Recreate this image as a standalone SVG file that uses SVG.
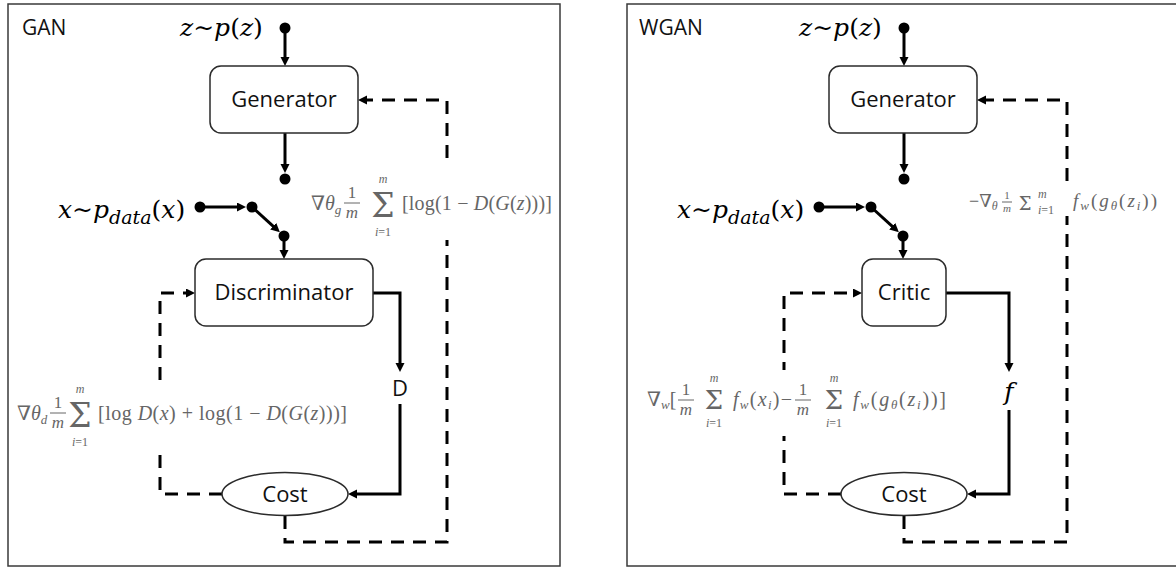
<svg xmlns="http://www.w3.org/2000/svg" width="1176" height="567" viewBox="0 0 1176 567">
  <style>
    .frame { fill: none; stroke: #3a3a3a; stroke-width: 1.5; }
    .box { fill: #fff; stroke: #2b2b2b; stroke-width: 1.5; }
    .lbl { font-family: "Open Sans", "Liberation Sans", sans-serif; font-size: 22px; fill: #111; text-anchor: middle; }
    .title { font-family: "Open Sans", "Liberation Sans", sans-serif; font-size: 21px; fill: #111; }
    .wire { fill: none; stroke: #000; stroke-width: 3; }
    .dash { fill: none; stroke: #000; stroke-width: 3; stroke-dasharray: 13 9; }
    .dot { fill: #000; }
    .var { font-family: "DejaVu Serif", "Liberation Serif", serif; font-style: italic; font-size: 25px; fill: #000; }
    .up { font-style: normal; }
    .m { font-family: "Liberation Serif", "DejaVu Serif", serif; fill: #666; }
    .sg { font-family: "DejaVu Serif", "Liberation Serif", serif; }
    .it { font-style: italic; }
    .c { text-anchor: middle; }
    .l { text-anchor: start; }
    .bar { stroke: #666; stroke-width: 1; }
    .pad { fill: #fff; }
  </style>
  <defs>
    <marker id="tip" markerUnits="userSpaceOnUse" markerWidth="10" markerHeight="10" refX="2" refY="4.5" orient="auto">
      <path d="M0,0 L9,4.5 L0,9 z" fill="#000"/>
    </marker>
  </defs>

  <!-- panel frames -->
  <rect class="frame" x="8" y="4" width="552" height="562"/>
  <rect class="frame" x="627" y="4" width="560" height="562"/>
  <text class="title" x="22" y="35">GAN</text>
  <text class="title" x="639" y="35">WGAN</text>

  <!-- ===== GAN panel ===== -->
  <g id="connectors-gan">
    <path class="wire" d="M285,28 V59" marker-end="url(#tip)"/>
    <path class="wire" d="M285,133 V166" marker-end="url(#tip)"/>
    <path class="wire" d="M200,207 H239" marker-end="url(#tip)"/>
    <path class="wire" d="M252,207 L274.7,227.6" marker-end="url(#tip)"/>
    <path class="wire" d="M284,236 V252" marker-end="url(#tip)"/>
    <path class="wire" d="M373,293 H400 V365" marker-end="url(#tip)"/>
    <path class="wire" d="M400,404 V494 H355" marker-end="url(#tip)"/>
    <path class="dash" d="M222,494 H160 V293 H188" marker-end="url(#tip)"/>
    <path class="dash" d="M285,516 V542 H447 V100 H365" marker-end="url(#tip)"/>
  </g>

  <g id="gan-z">
    <text class="var" x="180" y="36">z∼p<tspan class="up">(</tspan>z<tspan class="up">)</tspan></text>
    <circle class="dot" cx="285" cy="28" r="5.5"/>
  </g>
  <g id="gan-generator">
    <rect class="box" x="210" y="66" width="148" height="67" rx="11"/>
    <text class="lbl" x="284" y="107">Generator</text>
  </g>
  <g id="gan-gz">
    <circle class="dot" cx="285" cy="179" r="5.5"/>
  </g>
  <g id="gan-x">
    <text class="var" x="58" y="218" font-size="26">x∼p<tspan font-size="19" dy="6">data</tspan><tspan class="up" dy="-6">(</tspan>x<tspan class="up">)</tspan></text>
    <circle class="dot" cx="200" cy="207" r="5.5"/>
  </g>
  <g id="gan-switch">
    <circle class="dot" cx="252" cy="207" r="5.5"/>
    <circle class="dot" cx="284" cy="236" r="5.5"/>
  </g>
  <g id="gan-discriminator">
    <rect class="box" x="195" y="259" width="178" height="67" rx="11"/>
    <text class="lbl" x="284" y="300">Discriminator</text>
  </g>
  <g id="gan-d">
    <text class="lbl" x="400" y="396" font-size="23">D</text>
  </g>
  <g id="gan-cost">
    <ellipse class="box" cx="285" cy="494" rx="63" ry="21.5"/>
    <text class="lbl" x="285" y="502">Cost</text>
  </g>

  <!-- generator gradient: fraction and summation limits as chunks of one text -->
  <g id="gan-grad-g">
    <rect class="pad" x="308" y="166" width="248" height="74"/>
    <line class="bar" x1="344" y1="203" x2="360" y2="203"/>
    <text class="m" font-size="20"><tspan x="311" y="210">∇<tspan class="it">θ</tspan><tspan class="it" font-size="13" dy="4">g</tspan></tspan><tspan class="c" x="352" y="198" font-size="17">1</tspan><tspan class="c it" x="352" y="218" font-size="17">m</tspan><tspan class="c it" x="383" y="183" font-size="12">m</tspan><tspan class="c sg" x="383" y="217" font-size="33">Σ</tspan><tspan class="c" x="383" y="236" font-size="12"><tspan class="it">i</tspan>=1</tspan><tspan class="l" x="402" y="210" textLength="150" lengthAdjust="spacing">[log(1 − <tspan class="it">D</tspan>(<tspan class="it">G</tspan>(<tspan class="it">z</tspan>)))]</tspan></text>
  </g>

  <!-- discriminator gradient -->
  <g id="gan-grad-d">
    <rect class="pad" x="14" y="380" width="337" height="72"/>
    <line class="bar" x1="50" y1="413" x2="66" y2="413"/>
    <text class="m" font-size="20"><tspan x="17" y="420">∇<tspan class="it">θ</tspan><tspan class="it" font-size="13" dy="4">d</tspan></tspan><tspan class="c" x="58" y="408" font-size="17">1</tspan><tspan class="c it" x="58" y="428" font-size="17">m</tspan><tspan class="c it" x="80" y="393" font-size="12">m</tspan><tspan class="c sg" x="80" y="427" font-size="33">Σ</tspan><tspan class="c" x="80" y="446" font-size="12"><tspan class="it">i</tspan>=1</tspan><tspan class="l" x="98" y="420" textLength="249" lengthAdjust="spacing">[log <tspan class="it">D</tspan>(<tspan class="it">x</tspan>) + log(1 − <tspan class="it">D</tspan>(<tspan class="it">G</tspan>(<tspan class="it">z</tspan>)))]</tspan></text>
  </g>

  <!-- ===== WGAN panel ===== -->
  <g id="connectors-wgan">
    <path class="wire" d="M904,28 V59" marker-end="url(#tip)"/>
    <path class="wire" d="M904,133 V166" marker-end="url(#tip)"/>
    <path class="wire" d="M819,207 H858" marker-end="url(#tip)"/>
    <path class="wire" d="M871,207 L893.7,227.6" marker-end="url(#tip)"/>
    <path class="wire" d="M903,236 V252" marker-end="url(#tip)"/>
    <path class="wire" d="M946,293 H1009 V365" marker-end="url(#tip)"/>
    <path class="wire" d="M1009,410 V494 H974" marker-end="url(#tip)"/>
    <path class="dash" d="M841,494 H784 V293 H855" marker-end="url(#tip)"/>
    <path class="dash" d="M904,516 V542 H1067 V100 H984" marker-end="url(#tip)"/>
  </g>

  <g id="wgan-z">
    <text class="var" x="799" y="36">z∼p<tspan class="up">(</tspan>z<tspan class="up">)</tspan></text>
    <circle class="dot" cx="904" cy="28" r="5.5"/>
  </g>
  <g id="wgan-generator">
    <rect class="box" x="829" y="66" width="148" height="67" rx="11"/>
    <text class="lbl" x="903" y="107">Generator</text>
  </g>
  <g id="wgan-gz">
    <circle class="dot" cx="904" cy="179" r="5.5"/>
  </g>
  <g id="wgan-x">
    <text class="var" x="677" y="218" font-size="26">x∼p<tspan font-size="19" dy="6">data</tspan><tspan class="up" dy="-6">(</tspan>x<tspan class="up">)</tspan></text>
    <circle class="dot" cx="819" cy="207" r="5.5"/>
  </g>
  <g id="wgan-switch">
    <circle class="dot" cx="871" cy="207" r="5.5"/>
    <circle class="dot" cx="903" cy="236" r="5.5"/>
  </g>
  <g id="wgan-critic">
    <rect class="box" x="862" y="259" width="84" height="67" rx="11"/>
    <text class="lbl" x="904" y="300">Critic</text>
  </g>
  <g id="wgan-f">
    <text class="var" x="1009" y="400" text-anchor="middle" font-size="26">f</text>
  </g>
  <g id="wgan-cost">
    <ellipse class="box" cx="904" cy="494" rx="63" ry="21.5"/>
    <text class="lbl" x="904" y="502">Cost</text>
  </g>

  <!-- generator gradient (inline style) -->
  <g id="wgan-grad-g">
    <rect class="pad" x="966" y="190" width="196" height="26"/>
    <line class="bar" x1="1002" y1="202" x2="1012" y2="202"/>
    <text class="m" font-size="18"><tspan x="969" y="207">−∇<tspan class="it" font-size="12" dy="3">θ</tspan></tspan><tspan class="c" x="1007" y="198.5" font-size="11">1</tspan><tspan class="c it" x="1007" y="211.5" font-size="11">m</tspan><tspan class="c sg" x="1025" y="210" font-size="18">Σ</tspan><tspan class="l it" x="1038" y="198" font-size="12">m</tspan><tspan class="l" x="1038" y="214" font-size="12"><tspan class="it">i</tspan>=1</tspan><tspan class="l" x="1073" y="207" font-size="19" textLength="84" lengthAdjust="spacing"><tspan class="it">f</tspan><tspan class="it" font-size="13" dy="3">w</tspan><tspan dy="-3">(</tspan><tspan class="it">g</tspan><tspan class="it" font-size="13" dy="3">θ</tspan><tspan dy="-3">(</tspan><tspan class="it">z</tspan><tspan class="it" font-size="13" dy="3">i</tspan><tspan dy="-3">))</tspan></tspan></text>
  </g>

  <!-- critic gradient -->
  <g id="wgan-grad-w">
    <rect class="pad" x="644" y="370" width="306" height="66"/>
    <line class="bar" x1="678" y1="400" x2="694" y2="400"/>
    <line class="bar" x1="795" y1="400" x2="811" y2="400"/>
    <text class="m" font-size="20"><tspan x="647" y="406">∇<tspan class="it" font-size="13" dy="3">w</tspan><tspan dy="-3">[</tspan></tspan><tspan class="c" x="686" y="395" font-size="17">1</tspan><tspan class="c it" x="686" y="415" font-size="17">m</tspan><tspan class="c it" x="714" y="382" font-size="12">m</tspan><tspan class="c sg" x="714" y="409" font-size="26">Σ</tspan><tspan class="c" x="714" y="426.5" font-size="12"><tspan class="it">i</tspan>=1</tspan><tspan class="l" x="733" y="406" textLength="59" lengthAdjust="spacing"><tspan class="it">f</tspan><tspan class="it" font-size="13" dy="3">w</tspan><tspan dy="-3">(</tspan><tspan class="it">x</tspan><tspan class="it" font-size="13" dy="3">i</tspan><tspan dy="-3">)−</tspan></tspan><tspan class="c" x="803" y="395" font-size="17">1</tspan><tspan class="c it" x="803" y="415" font-size="17">m</tspan><tspan class="c it" x="834" y="382" font-size="12">m</tspan><tspan class="c sg" x="834" y="409" font-size="26">Σ</tspan><tspan class="c" x="834" y="426.5" font-size="12"><tspan class="it">i</tspan>=1</tspan><tspan class="l" x="853" y="406" textLength="93" lengthAdjust="spacing"><tspan class="it">f</tspan><tspan class="it" font-size="13" dy="3">w</tspan><tspan dy="-3">(</tspan><tspan class="it">g</tspan><tspan class="it" font-size="13" dy="3">θ</tspan><tspan dy="-3">(</tspan><tspan class="it">z</tspan><tspan class="it" font-size="13" dy="3">i</tspan><tspan dy="-3">))]</tspan></tspan></text>
  </g>
</svg>
